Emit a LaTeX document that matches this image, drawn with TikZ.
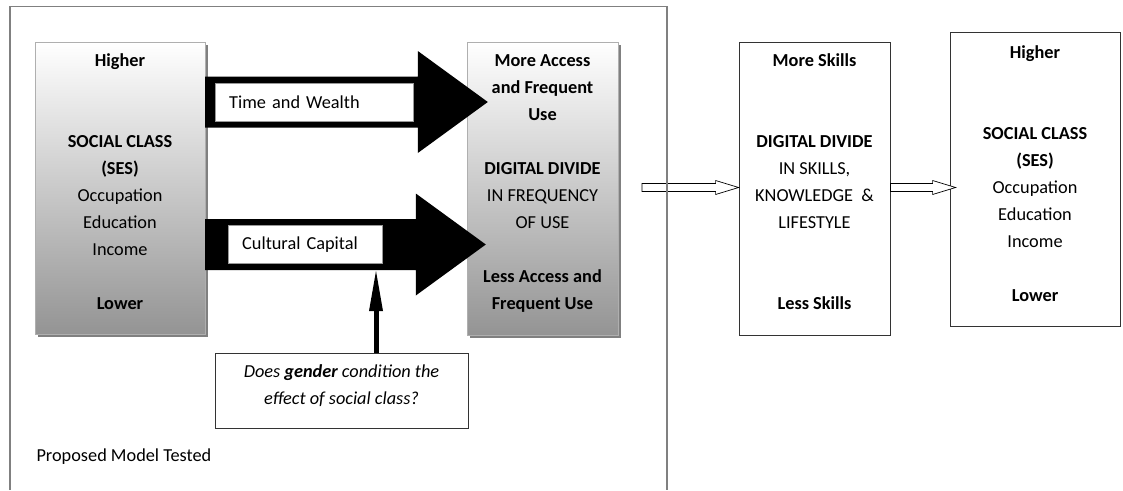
\documentclass[tikz,border=0pt]{standalone}
\usepackage{fontspec}
\setmainfont{Carlito}
\usetikzlibrary{calc,shadows,arrows.meta}
\definecolor{framegray}{RGB}{128,128,128}
\definecolor{boxedge}{RGB}{175,175,175}

% fat black arrow: tail, tip
\newcommand{\fatarrow}[2]{%
  \fill ($(#1)+(0,-25.5)$) -- ($(#2)+(-70,-25.5)$) -- ($(#2)+(-70,-51)$) -- (#2)
    -- ($(#2)+(-70,51)$) -- ($(#2)+(-70,25.5)$) -- ($(#1)+(0,25.5)$) -- cycle;}
% hollow arrow: tail, tip
\newcommand{\flowarrow}[2]{%
  \draw[fill=white,line width=0.7pt] ($(#1)+(0,-4)$) -- ($(#2)+(-23,-4)$) -- ($(#2)+(-23,-7)$) -- (#2)
    -- ($(#2)+(-23,7)$) -- ($(#2)+(-23,4)$) -- ($(#1)+(0,4)$) -- cycle;}

\begin{document}
\begin{tikzpicture}[x=1pt,y=-1pt,
  every node/.style={font=\fontsize{18.3}{27}\selectfont},
  gradbox/.style={draw=boxedge,top color=white,bottom color=black!42,
    minimum width=170pt,minimum height=292pt,inner sep=0pt,align=center,text depth=13pt,
    drop shadow={shadow xshift=3pt,shadow yshift=-3pt,fill=black!50,opacity=1}},
  plainbox/.style={draw=black!80,line width=0.8pt,fill=white,minimum width=151pt,
    minimum height=293pt,inner sep=0pt,align=center,text depth=13pt},
  lab/.style={draw=black!40,fill=white,anchor=west,minimum height=38pt,inner xsep=14pt,
    inner ysep=0pt,align=left},
]
\useasboundingbox (0,0) rectangle (1123,490);

% the four boxes
\node[gradbox] (ses) at (120,188)
  {\textbf{Higher}\\~\\~\\\textbf{SOCIAL CLASS}\\\textbf{(SES)}\\Occupation\\Education\\Income\\~\\\textbf{Lower}};
\node[gradbox,minimum width=151pt,minimum height=293pt] (acc) at (542.5,188.5)
  {\textbf{More Access}\\\textbf{and Frequent}\\\textbf{Use}\\~\\\textbf{DIGITAL DIVIDE}\\IN FREQUENCY\\OF USE\\~\\\textbf{Less Access and}\\\textbf{Frequent Use}};
\node[plainbox] (skills) at (814.5,188.5)
  {\textbf{More Skills}\\~\\~\\\textbf{DIGITAL DIVIDE}\\IN SKILLS,\\KNOWLEDGE\ \ \&\\LIFESTYLE\\~\\~\\\textbf{Less Skills}};
\node[plainbox,minimum width=170pt,minimum height=294pt,text depth=10pt] (ses2) at (1035,179)
  {\textbf{Higher}\\~\\~\\\textbf{SOCIAL CLASS}\\\textbf{(SES)}\\Occupation\\Education\\Income\\~\\\textbf{Lower}};

% paths through which class works
\coordinate (twc) at (215,102);
\coordinate (ccc) at (228,244.5);
\fatarrow{ses.east |- twc}{[xshift=21pt]acc.west |- twc}
\fatarrow{ses.east |- ccc}{[xshift=19pt]acc.west |- ccc}
\node[lab,text width=170pt] (tw) at (twc) {Time and Wealth};
\node[lab,text width=126pt] (cc) at (ccc) {Cultural Capital};

% gender as moderator
\node[draw=black!80,line width=0.8pt,minimum width=253pt,minimum height=75pt,inner sep=0pt,
  align=center,text depth=12pt] (gender) at (341.5,390.5)
  {\itshape Does \textbf{gender} condition the\\\itshape effect of social class?};
\coordinate (gtip) at (376,271);
\draw[line width=5pt,-{Triangle[length=40pt,width=14pt,line width=0pt]}] (gender.north -| gtip) -- (gtip);

\node[anchor=west] (model) at (33,457) {Proposed Model Tested};

% later consequences
\coordinate (flow) at (642,187.5);
\flowarrow{flow}{skills.west |- flow}
\flowarrow{skills.east |- flow}{[xshift=6pt]ses2.west |- flow}

% frame round the tested model
\draw[framegray,line width=1.3pt] (10,490) |- (667,6.5) -- (667,490);
\end{tikzpicture}
\end{document}
